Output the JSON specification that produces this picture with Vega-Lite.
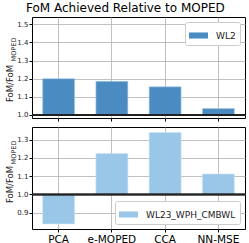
{
  "$schema": "https://vega.github.io/schema/vega-lite/v6.json",
  "padding": {"left": 4, "top": 1, "right": 4, "bottom": 0},
  "title": {"text": "FoM Achieved Relative to MOPED", "font": "DejaVu Sans", "fontSize": 12, "fontWeight": "normal", "anchor": "middle", "offset": 2, "color": "black"},
  "config": {
    "font": "DejaVu Sans",
    "view": {"stroke": "black", "strokeWidth": 1},
    "axis": {"gridColor": "#b0b0b0", "gridWidth": 0.8, "tickColor": "black", "domain": false, "labelColor": "#222", "labelFontSize": 7, "titleFontWeight": "normal", "titleColor": "#222", "tickSize": 3, "labelOverlap": false, "labelPadding": 1},
    "legend": {"labelFontSize": 9, "labelFont": "DejaVu Sans", "labelColor": "#222", "symbolType": "M-1,-0.32H1V0.32H-1Z", "symbolSize": 361, "strokeColor": "#cccccc", "fillColor": "white", "padding": 4, "labelOffset": 8, "cornerRadius": 2, "symbolStrokeWidth": 0, "offset": 5}
  },
  "datasets": {
    "wl2": [
      {"cat": "PCA", "value": 1.2, "series": "WL2"},
      {"cat": "e-MOPED", "value": 1.185, "series": "WL2"},
      {"cat": "CCA", "value": 1.155, "series": "WL2"},
      {"cat": "NN-MSE", "value": 1.035, "series": "WL2"}
    ],
    "wl23": [
      {"cat": "PCA", "value": 0.838, "series": "WL23_WPH_CMBWL"},
      {"cat": "e-MOPED", "value": 1.225, "series": "WL23_WPH_CMBWL"},
      {"cat": "CCA", "value": 1.34, "series": "WL23_WPH_CMBWL"},
      {"cat": "NN-MSE", "value": 1.112, "series": "WL23_WPH_CMBWL"}
    ]
  },
  "spacing": 4,
  "vconcat": [
    {
      "width": 213, "height": 101,
      "data": {"name": "wl2"},
      "resolve": {"axis": {"y": "independent"}},
      "layer": [
        {
          "mark": {"type": "bar", "stroke": "#a9cbe6", "strokeWidth": 0.6},
          "encoding": {
            "x": {"field": "cat", "type": "nominal", "sort": null, "scale": {"paddingInner": 0.4, "paddingOuter": 0.2}, "axis": {"labels": false, "title": null, "bandPosition": 0.5, "grid": true, "tickBand": "center"}},
            "y": {"field": "value", "type": "quantitative", "scale": {"domain": [0.983, 1.54], "nice": false, "zero": false}, "axis": {"tickCount": 6, "format": ".1f", "labelOverlap": false, "title": "FoM/FoM", "titleFontSize": 8.5, "titleAngle": -90, "titleAlign": "center", "titleBaseline": "middle", "titleX": -23, "titleY": 66}},
            "y2": {"datum": 1},
            "color": {"field": "series", "type": "nominal", "scale": {"range": ["#4a8cc2"]}, "legend": {"title": null, "orient": "top-right"}}
          }
        },
        {
          "mark": {"type": "rule", "color": "#222", "strokeWidth": 1.5},
          "encoding": {"y": {"datum": 1, "type": "quantitative", "axis": {"orient": "left", "labels": false, "ticks": false, "grid": false, "domain": false, "title": "MOPED", "titleFontSize": 6.5, "titleAngle": -90, "titleAlign": "center", "titleBaseline": "middle", "titleX": -19, "titleY": 32}}}
        }
      ]
    },
    {
      "width": 213, "height": 102,
      "data": {"name": "wl23"},
      "resolve": {"axis": {"y": "independent"}},
      "layer": [
        {
          "mark": {"type": "bar", "stroke": "#cfe3f3", "strokeWidth": 0.6},
          "encoding": {
            "x": {"field": "cat", "type": "nominal", "sort": null, "scale": {"paddingInner": 0.4, "paddingOuter": 0.2}, "axis": {"title": null, "labelAngle": 0, "labelFontSize": 10.5, "labelColor": "black", "bandPosition": 0.5, "grid": true, "labelPadding": 2}},
            "y": {"field": "value", "type": "quantitative", "scale": {"domain": [0.81, 1.37], "nice": false, "zero": false}, "axis": {"tickCount": 6, "format": ".1f", "labelOverlap": false, "title": "FoM/FoM", "titleFontSize": 8.5, "titleAngle": -90, "titleAlign": "center", "titleBaseline": "middle", "titleX": -23, "titleY": 57}},
            "y2": {"datum": 1},
            "color": {"field": "series", "type": "nominal", "scale": {"range": ["#9ac7e7"]}, "legend": {"title": null, "orient": "bottom-right"}}
          }
        },
        {
          "mark": {"type": "rule", "color": "#222", "strokeWidth": 1.5},
          "encoding": {"y": {"datum": 1, "type": "quantitative", "axis": {"orient": "left", "labels": false, "ticks": false, "grid": false, "domain": false, "title": "MOPED", "titleFontSize": 6.5, "titleAngle": -90, "titleAlign": "center", "titleBaseline": "middle", "titleX": -19, "titleY": 25}}}
        }
      ]
    }
  ],
  "resolve": {"scale": {"color": "independent"}}
}
